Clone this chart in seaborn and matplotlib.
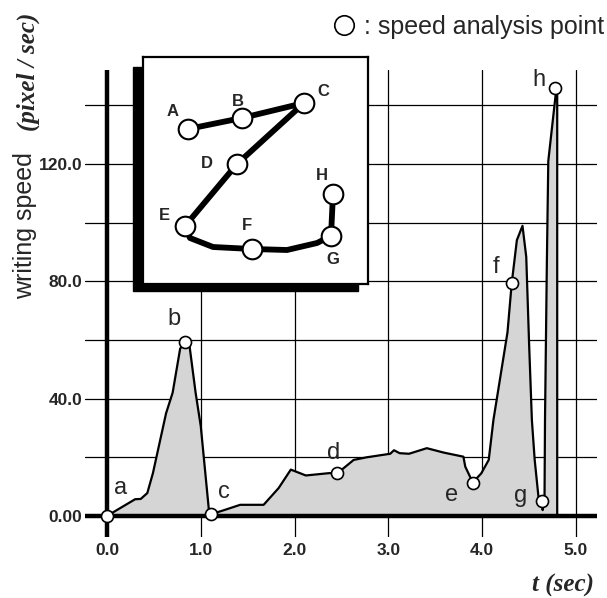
import numpy as np
import pandas as pd
import seaborn as sns
import matplotlib.pyplot as plt
from matplotlib.lines import Line2D
from matplotlib.patches import Rectangle

# writing speed curve
t_sec = [0.00, 0.30, 0.36, 0.43, 0.49, 0.63, 0.70, 0.78, 0.83, 0.88, 0.945, 1.00,
         1.09, 1.11, 1.25, 1.42, 1.67, 1.83, 1.96, 2.12, 2.37, 2.455, 2.63, 2.77,
         3.02, 3.06, 3.12, 3.22, 3.41, 3.59, 3.80, 3.82, 3.90, 3.99, 4.07, 4.12,
         4.27, 4.315, 4.37, 4.43, 4.47, 4.50, 4.53, 4.56, 4.60, 4.64, 4.645, 4.665,
         4.67, 4.69, 4.705, 4.785, 4.80, 4.80]
speed = [0.0, 5.7, 5.8, 7.8, 14.6, 35.0, 42.0, 57.0, 59.4, 58.0, 42.0, 30.6,
         0.9, 0.6, 2.0, 3.8, 3.8, 9.5, 15.8, 13.8, 14.6, 14.5, 19.1, 20.0,
         21.2, 22.4, 21.4, 21.2, 23.1, 21.6, 20.2, 16.8, 11.4, 14.5, 19.1, 32.7,
         62.6, 79.3, 94.0, 98.9, 88.3, 59.0, 32.7, 19.1, 6.6, 5.1, 2.0, 7.0,
         33.0, 87.0, 121.0, 144.0, 144.0, 0.0]

# speed analysis points a-h
pt_names = ['a', 'b', 'c', 'd', 'e', 'f', 'g', 'h']
pt_t = [0.0, 0.83, 1.11, 2.455, 3.90, 4.315, 4.64, 4.78]
pt_speed = [0.0, 59.4, 0.6, 14.5, 11.4, 79.3, 5.1, 146.0]
lbl_t = [0.15, 0.71, 1.245, 2.42, 3.67, 4.15, 4.41, 4.60]
lbl_speed = [9.5, 67.2, 8.0, 21.3, 7.2, 84.8, 6.9, 148.5]

# inset: pen trajectory of the written character (y grows downward)
stroke_x = [45, 99, 161, 94, 42, 47, 70, 109, 144, 174, 188, 190]
stroke_y = [72, 61, 46, 107, 169, 181, 190, 192, 193, 186, 179, 137]
key_names = ['A', 'B', 'C', 'D', 'E', 'F', 'G', 'H']
key_x = [45, 99, 161, 94, 42, 109, 188, 190]
key_y = [72, 61, 46, 107, 169, 192, 179, 137]
key_lx = [30, 95, 180, 64, 21, 104, 190, 179]
key_ly = [55, 45, 35, 107, 159, 169, 202, 119]

xticks = [0, 1, 2, 3, 4, 5]
xtick_labels = ['0.0', '1.0', '2.0', '3.0', '4.0', '5.0']
yticks = [0, 40, 80, 120]
ytick_labels = ['0.00', '40.0', '80.0', '120.0']
yminor = [20, 60, 100, 140]

df = pd.DataFrame({'t': t_sec, 'speed': speed})
pts = pd.DataFrame({'t': pt_t, 'speed': pt_speed})

sns.set_theme(style='white')
plt.rcParams['font.family'] = ['Liberation Sans', 'DejaVu Sans']

W, H = 607, 598
fig = plt.figure(figsize=(W / 100, H / 100), dpi=100)
ax = fig.add_axes([85.4 / W, 1 - 536.5 / H, 511.2 / W, 466.5 / H])

ax.fill_between(df['t'], df['speed'], 0, color='#d5d5d5', lw=0, zorder=1.5)
sns.lineplot(data=df, x='t', y='speed', sort=False, estimator=None,
             color='black', lw=1.6, ax=ax, zorder=3)
sns.scatterplot(data=pts, x='t', y='speed', s=75, color='white',
                edgecolor='black', linewidth=1.2, ax=ax, zorder=5)
for name, x, y in zip(pt_names, lbl_t, lbl_speed):
    ax.text(x, y, name, fontsize=17, ha='center', va='center', zorder=6)

ax.axhline(0, color='black', lw=3.2, zorder=4)
ax.axvline(0, color='black', lw=3.2, zorder=4)

ax.set_xlim(-0.23, 5.22)
ax.set_ylim(-7, 152)
ax.set_xticks(xticks)
ax.set_xticklabels(xtick_labels)
ax.set_yticks(yticks)
ax.set_yticklabels(ytick_labels)
ax.set_yticks(yminor, minor=True)
ax.tick_params(length=0, which='both')
ax.tick_params(axis='y', pad=2, labelsize=12.5)
ax.tick_params(axis='x', pad=5, labelsize=12.5)
for lab in ax.get_xticklabels() + ax.get_yticklabels():
    lab.set_fontweight('bold')
ax.set_axisbelow(True)
ax.grid(which='both', color='black', lw=0.9)
for s in ax.spines.values():
    s.set_visible(False)
ax.set_xlabel('')
ax.set_ylabel('')

fig.text(25 / W, 1 - 226 / H, 'writing speed', rotation=90, ha='center',
         va='center', fontsize=18)
fig.text(28 / W, 1 - 72 / H, '(pixel / sec)', rotation=90, ha='center',
         va='center', fontsize=18, family='Liberation Serif',
         weight='bold', style='italic')
fig.text(563 / W, 1 - 585 / H, 't (sec)', ha='center', va='center',
         fontsize=18, family='Liberation Serif', weight='bold', style='italic')

handle = Line2D([], [], ls='', marker='o', ms=14, mfc='white', mec='black', mew=1.2)
ax.legend(handles=[handle], labels=[': speed analysis point'], loc='center right',
          bbox_to_anchor=(604 / W, 1 - 27 / H), bbox_transform=fig.transFigure,
          frameon=False, fontsize=18, handlelength=1.0, handletextpad=0.3,
          borderpad=0, borderaxespad=0)

# inset with drop shadow
fig.add_artist(Rectangle((133 / W, 1 - 291 / H), 225 / W, 224 / H,
                         transform=fig.transFigure, color='black', zorder=2))
ins = fig.add_axes([143 / W, 1 - 284 / H, 225 / W, 227 / H], zorder=3)
ins.set_facecolor('white')
sns.lineplot(x=stroke_x, y=stroke_y, sort=False, estimator=None,
             color='black', lw=4.2, ax=ins)
sns.scatterplot(x=key_x, y=key_y, s=200, color='white', edgecolor='black',
                linewidth=1.5, ax=ins, zorder=4)
for name, x, y in zip(key_names, key_lx, key_ly):
    ins.text(x, y, name, fontsize=12, weight='bold', ha='center', va='center')
ins.set_xlim(0, 225)
ins.set_ylim(227, 0)
ins.set_xticks([])
ins.set_yticks([])
for s in ins.spines.values():
    s.set_visible(True)
    s.set_color('black')
    s.set_linewidth(1.6)

fig.savefig('out.png', dpi=100)
